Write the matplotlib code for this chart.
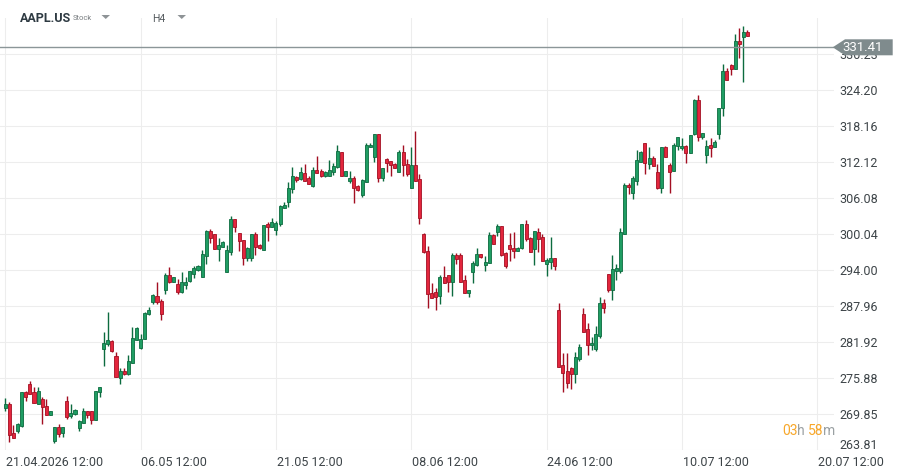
import matplotlib.pyplot as plt
from matplotlib.patches import Polygon
from matplotlib.transforms import ScaledTranslation

plt.rcParams['font.family'] = ['Roboto', 'DejaVu Sans']

# H4 candles
opens = [270.9, 271.5, 266.6, 267.05, 267.9, 273.5, 274.8, 273.5, 271.6, 272.4,
         271.2, 269.7, 265.4, 267.7, 266.6, 272.0, 269.5, 269.8, 267.45, 268.4,
         270.3, 270.3, 268.8, 273.5, 280.7, 281.65, 282.05, 279.6, 275.95, 277.0,
         276.6, 278.35, 282.3, 280.9, 282.4, 286.6, 288.7, 289.6, 288.8, 290.65,
         293.2, 292.05, 291.6, 290.3, 291.5, 292.2, 293.35, 294.0, 292.8, 296.4,
         300.55, 300.0, 297.55, 297.9, 293.75, 297.1, 302.55, 300.2, 299.05, 296.1,
         296.1, 300.1, 298.2, 297.3, 301.65, 301.3, 300.7, 301.7, 304.4, 305.4,
         307.65, 309.55, 309.3, 310.35, 309.4, 308.05, 310.75, 310.55, 309.7, 309.8,
         310.4, 311.35, 313.8, 309.8, 309.0, 309.45, 308.05, 306.6, 308.8, 314.7,
         313.0, 316.8, 309.4, 312.6, 312.25, 311.8, 310.5, 313.8, 311.75, 307.85,
         311.6, 309.3, 300.1, 297.2, 290.1, 290.3, 289.65, 292.8, 293.1, 291.95,
         296.5, 296.5, 292.3, 290.2, 293.75, 294.85, 296.65, 294.9, 295.15, 299.85,
         300.45, 301.35, 296.85, 298.2, 297.7, 297.25, 297.65, 301.7, 299.4, 297.5,
         300.35, 299.5, 294.95, 295.4, 295.95, 287.3, 278.0, 277.05, 277.5, 276.6,
         279.1, 286.6, 284.15, 281.35, 280.7, 282.95, 288.45, 293.3, 290.7, 293.85,
         293.85, 300.1, 308.3, 307.0, 309.0, 312.2, 315.3, 311.8, 312.75, 310.4,
         307.85, 314.65, 311.65, 310.7, 314.8, 314.4, 314.8, 313.7, 316.9, 322.6,
         316.3, 313.35, 314.95, 314.7, 316.9, 321.15, 327.35, 328.4, 327.7, 332.4,
         333.15, 333.9]
highs = [272.6, 271.9, 268.0, 268.4, 273.5, 273.7, 275.4, 274.4, 274.4, 272.7,
         272.4, 270.4, 267.7, 268.1, 267.7, 272.9, 271.5, 270.7, 268.85, 270.9,
         270.4, 270.4, 273.7, 274.4, 283.6, 286.97, 282.2, 280.2, 277.5, 277.5,
         279.75, 284.45, 284.4, 283.2, 287.0, 287.75, 289.99, 292.0, 289.2, 293.5,
         294.5, 292.9, 292.45, 293.7, 292.8, 293.85, 294.7, 294.85, 297.4, 300.8,
         300.9, 300.1, 299.3, 298.9, 298.2, 303.1, 302.6, 300.25, 299.05, 297.8,
         300.1, 300.4, 298.3, 301.6, 302.05, 302.7, 302.3, 304.85, 305.4, 308.7,
         311.25, 309.8, 311.25, 311.85, 309.8, 311.35, 313.15, 310.95, 310.7, 312.4,
         311.9, 314.9, 313.8, 310.7, 310.6, 309.85, 308.2, 309.3, 315.3, 315.3,
         316.85, 316.8, 311.1, 312.85, 312.3, 312.0, 314.2, 315.0, 312.7, 314.65,
         317.35, 310.1, 300.2, 298.05, 291.8, 290.95, 293.2, 294.6, 293.2, 296.9,
         296.85, 296.85, 293.1, 290.65, 295.6, 297.7, 296.7, 296.35, 300.35, 300.0,
         301.7, 301.4, 297.0, 300.25, 300.4, 297.9, 301.7, 302.4, 299.5, 300.55,
         301.0, 300.1, 295.95, 299.55, 296.05, 288.4, 280.1, 280.1, 277.8, 280.25,
         281.6, 287.6, 285.2, 282.85, 284.6, 289.5, 289.1, 293.4, 296.5, 294.95,
         301.0, 308.55, 308.55, 309.8, 314.15, 313.9, 315.3, 314.65, 313.1, 311.75,
         314.65, 314.8, 311.9, 315.3, 316.3, 316.1, 315.0, 316.7, 322.65, 323.35,
         317.05, 315.8, 316.15, 315.8, 321.25, 328.6, 327.95, 328.6, 333.55, 334.55,
         334.95, 334.2]
lows = [270.4, 265.2, 265.8, 266.7, 267.6, 272.0, 273.2, 271.75, 271.6, 268.1,
        269.6, 269.6, 265.0, 266.0, 266.0, 268.96, 269.2, 269.7, 267.05, 268.3,
        269.2, 268.1, 268.8, 272.75, 277.95, 281.3, 280.2, 276.1, 274.8, 276.4,
        276.4, 278.35, 282.2, 280.75, 282.4, 286.5, 288.3, 288.3, 285.6, 289.9,
        291.8, 292.0, 289.95, 290.2, 290.9, 292.0, 292.7, 293.9, 292.8, 295.1,
        298.6, 297.5, 295.5, 297.85, 293.75, 296.55, 300.4, 297.25, 294.9, 295.45,
        295.55, 296.45, 297.5, 297.3, 298.85, 301.2, 299.8, 301.4, 304.4, 304.6,
        306.95, 308.8, 309.1, 308.95, 308.4, 307.9, 310.3, 309.6, 309.6, 309.7,
        309.95, 311.2, 309.85, 309.7, 308.55, 305.2, 307.3, 306.3, 308.8, 314.6,
        312.1, 308.8, 308.95, 310.5, 309.7, 311.05, 310.5, 309.7, 309.7, 307.85,
        308.9, 301.8, 296.9, 287.7, 289.3, 287.3, 288.3, 291.8, 290.35, 289.65,
        294.95, 291.95, 290.2, 289.5, 291.8, 294.6, 296.1, 293.9, 295.15, 298.35,
        299.7, 296.4, 294.3, 295.6, 296.0, 297.2, 297.5, 298.9, 297.05, 294.85,
        297.1, 295.5, 293.0, 294.2, 294.0, 277.8, 273.6, 274.2, 274.1, 275.1,
        278.7, 283.6, 279.8, 280.6, 280.5, 282.6, 286.75, 290.35, 289.0, 292.35,
        293.55, 300.0, 306.75, 306.0, 308.35, 312.1, 310.2, 311.0, 311.5, 307.6,
        307.0, 312.9, 307.0, 310.6, 314.15, 314.15, 312.0, 313.65, 316.7, 315.7,
        315.95, 312.0, 312.9, 314.7, 316.05, 319.9, 325.85, 326.75, 327.7, 329.6,
        325.6, 333.3]
closes = [271.5, 266.4, 265.9, 268.1, 273.5, 272.65, 273.2, 271.75, 273.7, 271.0,
          269.7, 270.35, 267.7, 266.5, 267.7, 269.4, 270.0, 270.5, 268.7, 270.3,
          269.6, 268.85, 273.7, 274.3, 281.8, 282.2, 280.5, 276.1, 277.0, 276.6,
          278.7, 282.55, 284.3, 282.4, 286.8, 287.3, 289.8, 288.6, 286.6, 293.1,
          292.05, 292.8, 290.3, 292.0, 292.0, 293.85, 294.35, 294.7, 296.75, 300.55,
          299.3, 297.55, 298.2, 298.65, 297.35, 302.6, 301.15, 298.8, 296.1, 297.7,
          300.1, 297.8, 297.75, 301.6, 301.2, 302.1, 301.9, 304.7, 304.9, 307.7,
          309.8, 309.1, 310.45, 309.0, 308.5, 310.75, 310.35, 309.7, 310.5, 310.8,
          311.45, 314.0, 309.85, 310.6, 309.4, 307.85, 307.4, 309.1, 315.0, 315.05,
          316.85, 309.4, 311.05, 312.0, 311.6, 311.2, 313.8, 311.6, 310.1, 311.6,
          309.0, 302.7, 297.0, 289.95, 289.3, 289.55, 292.8, 291.85, 291.95, 296.5,
          295.8, 292.05, 290.2, 290.65, 295.15, 296.65, 296.15, 295.3, 299.9, 298.45,
          301.35, 296.5, 294.75, 297.5, 297.25, 297.7, 301.7, 299.15, 297.1, 300.55,
          299.15, 295.6, 295.7, 295.95, 294.75, 277.8, 276.7, 275.1, 276.6, 279.35,
          281.1, 283.65, 281.35, 281.8, 283.3, 288.45, 287.7, 290.7, 294.2, 294.4,
          300.4, 308.3, 307.9, 309.45, 312.5, 313.8, 311.9, 312.75, 311.5, 307.7,
          314.65, 312.9, 310.5, 315.0, 316.3, 314.8, 313.7, 316.7, 322.55, 316.3,
          316.95, 314.75, 314.5, 315.45, 321.15, 327.35, 325.85, 327.75, 332.4, 332.0,
          333.9, 333.3]

price_ticks = [263.81, 269.85, 275.88, 281.92, 287.96, 294.00, 300.04,
               306.08, 312.12, 318.16, 324.20, 330.23]
date_ticks = [0, 33, 66, 99, 132, 165, 198]
date_labels = ['21.04.2026 12:00', '06.05 12:00', '21.05 12:00', '08.06 12:00',
               '24.06 12:00', '10.07 12:00', '20.07 12:00']
last_price = 331.41

W, H = 905, 476
fig = plt.figure(figsize=(W / 100, H / 100), dpi=100)
fig.patch.set_facecolor('white')
ax = fig.add_axes([0, 26 / H, 834 / W, 432 / H])

up, up_edge = '#1f9d63', '#0c6b3f'
dn, dn_edge = '#e3263d', '#a30f22'

for i in range(len(opens)):
    o, h, l, c = opens[i], highs[i], lows[i], closes[i]
    rising = c >= o
    edge = up_edge if rising else dn_edge
    ax.vlines(i, l, h, color=edge, lw=1, zorder=2)
    ax.bar(i, max(abs(c - o), 0.15), bottom=min(o, c), width=0.74,
           color=up if rising else dn, edgecolor=edge, linewidth=0.6, zorder=3)

ax.axhline(last_price, color='#8b9698', lw=1, zorder=4)

ax.set_xlim(-1.29, 202.1)
ax.set_ylim(263.81, 336.29)

ax.yaxis.tick_right()
ax.set_yticks(price_ticks)
ax.set_yticklabels(['%.2f' % v for v in price_ticks])
ax.set_xticks(date_ticks)
ax.set_xticklabels(date_labels, ha='left')
ax.tick_params(axis='both', length=0, labelsize=9, labelcolor='#3d4448')
ax.tick_params(axis='y', pad=4)
ax.tick_params(axis='x', pad=4)
ax.grid(True, color='#ededed', lw=0.8, zorder=0)
for s in ax.spines.values():
    s.set_visible(False)

# lowest price label sits a bit above its gridline
lbl = ax.get_yticklabels()[0]
lbl.set_transform(lbl.get_transform() + ScaledTranslation(0, 4 / 72, fig.dpi_scale_trans))
for t in ax.get_xticklabels():
    t.set_transform(t.get_transform() + ScaledTranslation(0.5 / 72, 0, fig.dpi_scale_trans))


def fx(px):
    return px / W


def fy(py):
    return 1 - py / H


# current price tag (covers the top price label, as on the original)
tag = Polygon([(fx(832.7), fy(47.3)), (fx(845), fy(39.3)), (fx(892.7), fy(39.3)),
               (fx(892.7), fy(55.3)), (fx(845), fy(55.3))],
              closed=True, transform=fig.transFigure, facecolor='#7f8b8d',
              edgecolor='none', zorder=5)
fig.patches.append(tag)
fig.text(fx(863), fy(47.5), '%.2f' % last_price, color='white', fontsize=9.5,
         ha='center', va='center', zorder=6)

# header
fig.text(fx(20), fy(18), 'AAPL.US', fontsize=9, fontweight='bold', color='#2e3a42',
         va='center')
fig.text(fx(73), fy(18.5), 'Stock', fontsize=5.5, color='#7a7f82', va='center')
fig.text(fx(152), fy(19), 'H4', fontsize=7.5, color='#555b5f', va='center')
for x0 in (101.5, 177.5):
    fig.patches.append(Polygon([(fx(x0), fy(15)), (fx(x0 + 8.5), fy(15)),
                                (fx(x0 + 4.25), fy(19))], closed=True,
                               transform=fig.transFigure, facecolor='#8e9396',
                               edgecolor='none'))

# candle countdown
orange, grey = '#f7a72a', '#9aa0a3'
fig.text(fx(782), fy(431), '03', fontsize=10, color=orange, va='center')
fig.text(fx(796.5), fy(431), 'h', fontsize=10, color=grey, va='center')
fig.text(fx(808), fy(431), '58', fontsize=10, color=orange, va='center')
fig.text(fx(822.5), fy(431), 'm', fontsize=10, color=grey, va='center')

fig.savefig('out.png', dpi=100, facecolor='white')
